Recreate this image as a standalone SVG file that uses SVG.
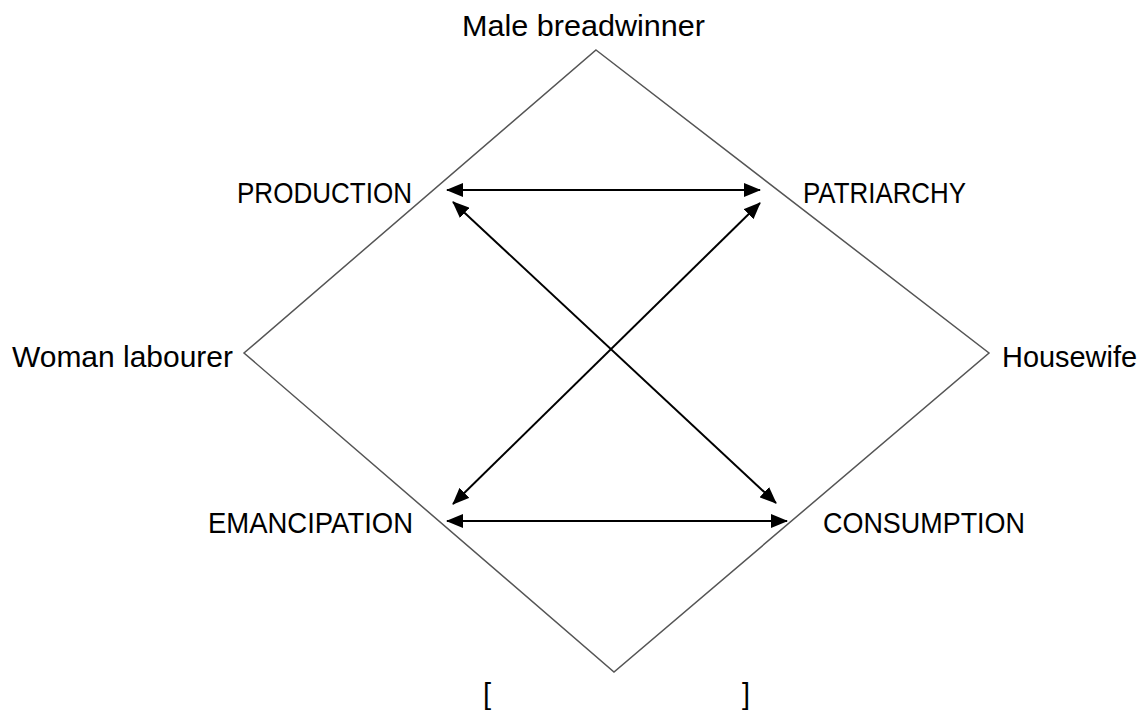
<svg xmlns="http://www.w3.org/2000/svg" width="1141" height="713" viewBox="0 0 1141 713">
<defs>
<style>
.lbl{font-family:"Liberation Sans",Arial,sans-serif;font-size:29px;fill:#000;}
.frame{fill:none;stroke:#555;stroke-width:1.5;}
.arr{fill:none;stroke:#000;stroke-width:2;marker-start:url(#ah);marker-end:url(#ah);}
</style>
<marker id="ah" viewBox="0 0 17 14" refX="16" refY="7" markerWidth="17" markerHeight="14" markerUnits="userSpaceOnUse" orient="auto-start-reverse">
<path d="M0,0 L17,7 L0,14 z" fill="#000"/>
</marker>
</defs>
<rect width="1141" height="713" fill="#fff"/>
<g id="frame">
<polygon class="frame" points="596,50 989,353 614,672 244,353"/>
</g>
<g id="connectors">
<line class="arr" x1="447" y1="190" x2="760" y2="190"/>
<line class="arr" x1="447" y1="521" x2="787" y2="521"/>
<line class="arr" x1="453" y1="202" x2="776" y2="503"/>
<line class="arr" x1="760" y1="203" x2="453" y2="504"/>
</g>
<g id="male-breadwinner"><text class="lbl" x="462" y="36" textLength="243" lengthAdjust="spacingAndGlyphs">Male breadwinner</text></g>
<g id="production"><text class="lbl" x="237" y="203" textLength="175" lengthAdjust="spacingAndGlyphs">PRODUCTION</text></g>
<g id="patriarchy"><text class="lbl" x="803" y="203" textLength="163" lengthAdjust="spacingAndGlyphs">PATRIARCHY</text></g>
<g id="woman-labourer"><text class="lbl" x="12" y="367" textLength="221" lengthAdjust="spacingAndGlyphs">Woman labourer</text></g>
<g id="housewife"><text class="lbl" x="1002" y="367" textLength="135" lengthAdjust="spacingAndGlyphs">Housewife</text></g>
<g id="emancipation"><text class="lbl" x="208" y="533" textLength="205" lengthAdjust="spacingAndGlyphs">EMANCIPATION</text></g>
<g id="consumption"><text class="lbl" x="823" y="533" textLength="202" lengthAdjust="spacingAndGlyphs">CONSUMPTION</text></g>
<g id="brackets">
<text class="lbl" x="483" y="704">[</text>
<text class="lbl" x="742" y="704">]</text>
</g>
</svg>
